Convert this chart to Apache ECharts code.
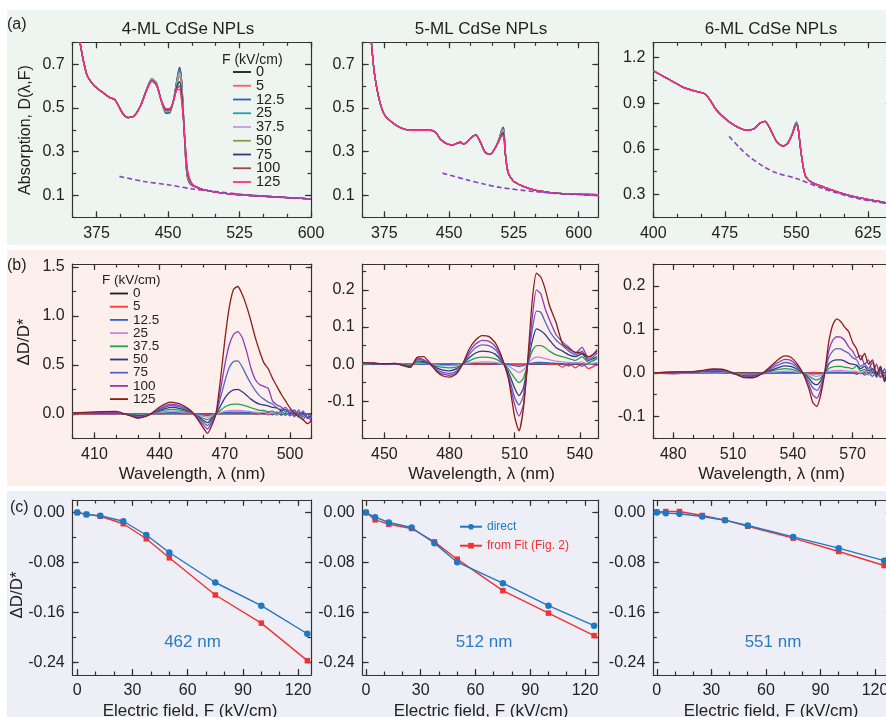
<!DOCTYPE html>
<html><head><meta charset="utf-8">
<script src="https://cdn.jsdelivr.net/npm/echarts@6/dist/echarts.min.js"></script>
<style>
html,body{margin:0;padding:0;background:#fff;}
#wrap{position:relative;width:886px;height:717px;overflow:hidden;}
.bg{position:absolute;left:7px;width:879px;}
#c{position:absolute;left:0;top:0;width:886px;height:717px;}
</style></head>
<body><div id="wrap">
<div class="bg" style="top:10px;height:235px;background:#eef4f0"></div>
<div class="bg" style="top:250px;height:236px;background:#fdf0ec"></div>
<div class="bg" style="top:491px;height:226px;background:#eeeff6"></div>
<div id="c"></div></div>
<script>
// ---------------- DATA ----------------
const fields = ['0','5','12.5','25','37.5','50','75','100','125'];

// tick labels
const aXLabels = [375,450,525,600];
const a3XLabels = [400,475,550,625];
const aYLabels = [0.1,0.3,0.5,0.7];
const a3YLabels = [0.3,0.6,0.9,1.2];
const b1XLabels = [410,440,470,500];
const b2XLabels = [450,480,510,540];
const b3XLabels = [480,510,540,570];
const b1YLabels = [0,0.5,1.0,1.5];
const bYLabels = [-0.1,0,0.1,0.2];
const cXLabels = [0,30,60,90,120];
const cYLabels = [-0.24,-0.16,-0.08,0];

// (a) 4-ML absorption: F=125 curve, plus other fields near the peaks
const a1Wl = [357.7,361,365,370,375,382,389,394,398,403,408,414,421,428,433,438,443,448,452,456,459,462,464,466,468,470,472,475,479,487,500,525,555,600];
const a1Base = [0.80,0.72,0.65,0.615,0.592,0.569,0.547,0.539,0.51,0.472,0.456,0.462,0.508,0.585,0.622,0.602,0.535,0.497,0.498,0.535,0.58,0.585,0.54,0.45,0.34,0.23,0.185,0.155,0.14,0.126,0.115,0.103,0.095,0.084];
const a1PeakWl = [428,433,438,443,448,452,456,459,462,464,466,468,470,472,475];
const a1PeakRows = [
 [0.59,0.633,0.612,0.53,0.475,0.478,0.54,0.62,0.685,0.64,0.49,0.3,0.19,0.16,0.145],
 [0.59,0.633,0.611,0.53,0.477,0.48,0.54,0.618,0.68,0.635,0.49,0.305,0.193,0.162,0.146],
 [0.59,0.632,0.61,0.531,0.479,0.482,0.54,0.616,0.676,0.63,0.485,0.31,0.196,0.164,0.147],
 [0.589,0.631,0.609,0.531,0.481,0.484,0.539,0.612,0.67,0.622,0.48,0.315,0.2,0.167,0.148],
 [0.588,0.629,0.608,0.532,0.484,0.487,0.538,0.606,0.66,0.612,0.475,0.32,0.205,0.17,0.15],
 [0.587,0.627,0.606,0.533,0.487,0.49,0.537,0.6,0.645,0.6,0.47,0.325,0.21,0.174,0.151],
 [0.586,0.625,0.604,0.534,0.491,0.493,0.536,0.592,0.62,0.575,0.46,0.33,0.218,0.178,0.153],
 [0.585,0.623,0.603,0.535,0.494,0.496,0.535,0.586,0.6,0.555,0.455,0.335,0.225,0.182,0.154]
];
const a1DashWl = [399,424.5,451,475.5,500,525,555,600];
const a1DashVal = [0.187,0.164,0.148,0.13,0.118,0.106,0.095,0.084];

// (a) 5-ML
const a2Wl = [360,363.5,369,375,384.6,394,406,417,429,435,440,448,454,460,463,467,475,481,486,492,498,504,508,511,513,515,517,519,522,525,536,548,567,587,623];
const a2Base = [0.80,0.66,0.54,0.47,0.432,0.409,0.398,0.398,0.398,0.386,0.357,0.335,0.331,0.34,0.343,0.335,0.363,0.377,0.345,0.296,0.29,0.322,0.35,0.372,0.37,0.29,0.235,0.197,0.178,0.164,0.141,0.125,0.113,0.107,0.103];
const a2PeakWl = [508,511,513,515,517];
const a2PeakRows = [
 [0.36,0.40,0.412,0.3,0.225],
 [0.36,0.399,0.41,0.299,0.226],
 [0.359,0.397,0.408,0.298,0.227],
 [0.358,0.394,0.404,0.297,0.228],
 [0.357,0.39,0.4,0.296,0.229],
 [0.355,0.386,0.394,0.295,0.23],
 [0.353,0.38,0.385,0.293,0.232],
 [0.351,0.376,0.378,0.291,0.234]
];
const a2DashWl = [442.3,471,490.4,509.6,548,586.5,623];
const a2DashVal = [0.202,0.171,0.152,0.136,0.118,0.106,0.1];

// (a) 6-ML
const a3Wl = [400,414,431,445,454,459,466,477,487,498,505,512,517,522,529,536,541,546,548,550,552,554,557,560,567,578,595,613,645];
const a3Base = [1.113,1.065,1.006,0.977,0.962,0.925,0.857,0.79,0.748,0.722,0.73,0.77,0.781,0.737,0.65,0.617,0.638,0.70,0.735,0.757,0.72,0.62,0.486,0.415,0.376,0.35,0.312,0.282,0.244];
const a3PeakWl = [546,548,550,552,554];
const a3PeakRows = [
 [0.705,0.75,0.775,0.735,0.62],
 [0.705,0.749,0.774,0.734,0.62],
 [0.704,0.748,0.772,0.733,0.62],
 [0.704,0.746,0.77,0.731,0.62],
 [0.703,0.744,0.768,0.729,0.62],
 [0.702,0.742,0.765,0.727,0.62],
 [0.701,0.739,0.762,0.724,0.62],
 [0.70,0.737,0.76,0.722,0.62]
];
const a3DashWl = [479.5,490.6,501,515,529,550,578,613,645];
const a3DashVal = [0.682,0.606,0.547,0.486,0.442,0.405,0.338,0.275,0.241];

// (b) 4-ML ΔD/D*
const b1Wl = [400,410,420,425,430,435,440,445,450,455,460,462,464,466,468,470,472,474,476,478,480,482,484,486,488,490,492,494,496,498,500,502,504,506,508,510];
const b1Rows = [
 [0,0,0,0,0,0,0,0,0,0,0,0,0,0,0,0,0,0,0,0,0,0,0,0,0,0,0,0,0,0,0,0,0,0,0,0],
 [0,0,0,0,-0.002,0,0.003,0.004,0.003,0,-0.004,-0.005,-0.003,0,0.003,0.006,0.008,0.009,0.009,0.008,0.007,0.006,0.004,0.002,0.01,-0.01,0.005,-0.012,0.008,-0.015,0.01,-0.02,0.005,-0.015,0,-0.02],
 [0.002,0.003,0.003,0,-0.005,-0.002,0.007,0.013,0.01,0.002,-0.013,-0.018,-0.01,0,0.007,0.013,0.016,0.018,0.018,0.016,0.014,0.01,0.008,0.012,0,0.015,-0.01,0.02,-0.015,0.01,-0.02,0.015,-0.03,0,-0.035,-0.02],
 [0.003,0.004,0.004,0,-0.01,-0.003,0.015,0.028,0.022,0.003,-0.027,-0.035,-0.02,0,0.012,0.026,0.033,0.036,0.036,0.032,0.027,0.022,0.016,0.012,0.02,0,0.012,-0.01,0.015,-0.012,0.01,-0.02,0.01,-0.025,0,-0.03],
 [0.004,0.006,0.006,-0.002,-0.015,-0.005,0.025,0.045,0.035,0.005,-0.045,-0.06,-0.035,0,0.035,0.07,0.092,0.1,0.1,0.092,0.078,0.062,0.048,0.035,0.035,0.02,0.028,0.005,0.025,-0.01,0.02,-0.015,0.015,-0.03,0.005,-0.025],
 [0.005,0.008,0.008,-0.004,-0.022,-0.008,0.035,0.065,0.05,0.008,-0.065,-0.09,-0.05,0,0.08,0.16,0.215,0.245,0.25,0.225,0.19,0.15,0.12,0.1,0.09,0.08,0.065,0.06,0.03,0.045,0,0.035,-0.01,0.02,-0.04,-0.02],
 [0.006,0.01,0.01,-0.005,-0.03,-0.01,0.045,0.085,0.065,0.01,-0.085,-0.12,-0.07,0,0.16,0.33,0.47,0.535,0.54,0.48,0.39,0.31,0.24,0.186,0.15,0.12,0.1,0.06,0.045,0.065,0.01,0.04,-0.02,0.03,-0.05,-0.03],
 [0.007,0.013,0.013,-0.007,-0.037,-0.012,0.055,0.1,0.08,0.012,-0.11,-0.155,-0.09,0,0.24,0.5,0.7,0.81,0.84,0.78,0.64,0.47,0.35,0.3,0.28,0.26,0.13,0.09,0.07,0.02,0.04,-0.03,0.04,-0.06,0,-0.1],
 [0.01,0.02,0.025,-0.008,-0.045,-0.015,0.07,0.12,0.095,0.02,-0.14,-0.2,-0.12,0.01,0.35,0.75,1.08,1.27,1.3,1.22,1.1,0.95,0.78,0.64,0.52,0.46,0.36,0.28,0.2,0.13,0.06,0.01,-0.03,-0.06,-0.1,-0.07]
];

// (b) 5-ML
const b2Wl = [440,445,450,455,459,462,465,468,471,474,477,480,483,486,489,492,495,498,501,504,507,510,512,514,516,518,520,522,524,526,529,532,535,538,541,544,548];
const b2Rows = [
 [0,0,0,0,0,0,0,0,0,0,0,0,0,0,0,0,0,0,0,0,0,0,0,0,0,0,0,0,0,0,0,0,0,0,0,0,0],
 [0,0.001,0,0,0,0,0,0,0,0,0,0,0,0,0,0.001,0.001,0.001,0,0,0,-0.001,-0.002,-0.001,0,0.001,0.002,0.002,0.001,0,0.001,-0.008,0.003,-0.01,0.002,-0.012,0],
 [0,0,0,0,0,0,0.001,0,0,-0.001,-0.001,-0.001,-0.001,0,0.001,0.002,0.002,0.002,0.001,0,-0.001,-0.004,-0.006,-0.004,0,0.003,0.005,0.005,0.004,0.003,0.002,0.001,-0.005,0.004,-0.006,0.003,-0.004],
 [0,0.001,0,0,0,-0.001,0.002,0.002,0,-0.002,-0.004,-0.004,-0.003,0,0.003,0.005,0.006,0.006,0.005,0.001,-0.005,-0.016,-0.022,-0.016,0,0.013,0.019,0.018,0.015,0.012,0.008,0.006,0.005,0.003,0.006,0,0.005],
 [0.001,0.001,0,0,-0.001,-0.003,0.005,0.004,0,-0.006,-0.009,-0.01,-0.008,0,0.009,0.016,0.019,0.018,0.014,0.004,-0.012,-0.038,-0.05,-0.038,0,0.035,0.05,0.05,0.045,0.035,0.025,0.02,0.015,0.01,0.02,0.005,0.015],
 [0.002,0.001,0,0.001,-0.002,-0.004,0.009,0.007,0,-0.01,-0.016,-0.018,-0.013,0,0.017,0.03,0.035,0.034,0.027,0.008,-0.02,-0.065,-0.085,-0.065,0,0.06,0.095,0.09,0.08,0.065,0.045,0.035,0.025,0.02,0.028,0.01,0.02],
 [0.002,0.002,0,0.001,-0.003,-0.006,0.013,0.01,0,-0.014,-0.022,-0.025,-0.019,0,0.025,0.044,0.052,0.05,0.039,0.012,-0.028,-0.09,-0.11,-0.085,0,0.09,0.143,0.14,0.115,0.09,0.065,0.05,0.035,0.025,0.035,0.01,0.03],
 [0.003,0.002,0,0.002,-0.004,-0.008,0.017,0.012,0,-0.017,-0.027,-0.03,-0.023,0,0.032,0.054,0.064,0.062,0.048,0.016,-0.035,-0.11,-0.14,-0.11,0.005,0.12,0.2,0.19,0.15,0.12,0.08,0.06,0.045,0.03,0.045,0.015,0.04],
 [0.004,0.003,0.001,0.002,-0.005,-0.009,0.018,0.02,0.003,-0.02,-0.032,-0.035,-0.027,0,0.04,0.065,0.077,0.075,0.058,0.02,-0.035,-0.143,-0.18,-0.12,0.01,0.167,0.245,0.235,0.203,0.158,0.113,0.055,0.041,0.032,0.03,0.02,0.035]
];

// (b) 6-ML
const b3Wl = [470,480,490,495,500,505,510,515,520,525,530,533,536,539,542,545,548,550,552,554,556,558,560,562,564,566,568,570,572,574,576,578,580,582,584,586,588,590];
const b3Rows = [
 [0,0,0,0,0,0,0,0,0,0,0,0,0,0,0,0,0,0,0,0,0,0,0,0,0,0,0,0,0,0,0,0,0,0,0,0,0,0],
 [0,0.001,0.001,0.001,0.002,0.001,0,-0.003,-0.003,0,0,0,0,0,0,0,0,0.001,0.001,0,0,0,0,0,0,0,0,0,0.002,-0.002,0.003,-0.004,0.002,-0.005,0.003,-0.006,0,-0.004],
 [0,-0.002,0,0.001,0.002,0.001,-0.002,-0.005,-0.005,-0.002,0,0.001,0.001,0.001,0,0,-0.001,-0.002,-0.002,-0.001,0,0.001,0.002,0.002,0.002,0.001,0.001,0,-0.003,0.002,-0.005,0,-0.008,0.003,-0.01,-0.005,-0.015,-0.02],
 [0,0,0.001,0.002,0.003,0.002,0,-0.005,-0.006,0,0.002,0.003,0.004,0.004,0.002,0,-0.003,-0.006,-0.008,-0.005,0,0.004,0.005,0.006,0.006,0.005,0.004,0.004,0.003,0,0.004,-0.005,0.003,-0.008,0.002,-0.01,0,-0.008],
 [0,0.001,0.001,0.003,0.004,0.003,0,-0.006,-0.007,0,0.005,0.008,0.01,0.009,0.005,0,-0.007,-0.013,-0.016,-0.011,0,0.01,0.014,0.015,0.015,0.013,0.012,0.01,0.016,0.005,0.008,0,0.008,-0.01,0.005,-0.012,0.002,-0.01],
 [0,0.001,0.002,0.004,0.005,0.004,0,-0.007,-0.008,0,0.008,0.013,0.016,0.015,0.009,0,-0.012,-0.023,-0.027,-0.018,0,0.02,0.028,0.03,0.03,0.027,0.022,0.02,0.018,0.01,0.015,0.005,0.01,-0.008,0.01,-0.015,0.005,-0.01],
 [0,0.001,0.002,0.004,0.006,0.005,0,-0.008,-0.009,0,0.012,0.019,0.024,0.022,0.013,0,-0.018,-0.034,-0.04,-0.027,0,0.035,0.05,0.056,0.055,0.05,0.045,0.035,0.03,0.015,0.02,0.01,0.025,-0.01,0.015,-0.02,0,-0.015],
 [0,0.002,0.003,0.005,0.008,0.007,0,-0.009,-0.01,0,0.016,0.025,0.031,0.029,0.017,0,-0.026,-0.05,-0.058,-0.038,0,0.05,0.075,0.083,0.082,0.075,0.06,0.05,0.035,0.04,0.02,0.03,0,0.02,-0.01,0.01,-0.02,0],
 [0,0.002,0.003,0.006,0.009,0.008,0,-0.01,-0.011,0,0.02,0.032,0.039,0.036,0.022,0,-0.035,-0.068,-0.077,-0.05,0,0.07,0.11,0.124,0.118,0.105,0.095,0.07,0.055,0.03,0.045,0.02,0.03,-0.005,0.015,-0.02,0.005,-0.03]
];

// (c) ΔD/D* vs field
const cField = [0,5,12.5,25,37.5,50,75,100,125];
const c1Direct = [0,-0.003,-0.005,-0.014,-0.036,-0.064,-0.112,-0.149,-0.194];
const c1Fit = [0,-0.003,-0.006,-0.018,-0.042,-0.0725,-0.132,-0.177,-0.237];
const c2Direct = [0,-0.0075,-0.016,-0.024,-0.049,-0.0795,-0.113,-0.149,-0.181];
const c2Fit = [0,-0.0117,-0.0187,-0.0256,-0.047,-0.0747,-0.125,-0.161,-0.197];
const c3Direct = [0,-0.001,-0.002,-0.0064,-0.0123,-0.0208,-0.039,-0.057,-0.077];
const c3Fit = [0.001,0.0016,0.0016,-0.0048,-0.0123,-0.022,-0.041,-0.0624,-0.0848];

// ---------------- STYLE / LAYOUT ----------------
const FONT = '"Liberation Sans", Arial, Helvetica, sans-serif';
const colorsA = ['#1a1a1a','#ff5c5c','#2a62c8','#1ea5a0','#c99ad8','#8a9a40','#2e3a7c','#9a4848','#ff2c8c'];
const colorsB = ['#1a1a1a','#ff3b3b','#2a64d0','#c08ad6','#22a04a','#2a3a86','#5566c8','#8d3bb8','#8b1c1c'];
const BLUE = '#1f78c1', RED = '#f03232', AX = '#333';

function rng(a,b,s){const n=Math.round((b-a)/s);const o=[];for(let i=0;i<=n;i++)o.push(+(a+i*s).toFixed(6));return o;}

const layout = [
 {left:72.7, top:42.3, width:238.3, height:175},
 {left:362.7, top:42.3, width:235.6, height:175},
 {left:653.3, top:42.3, width:238.5, height:175},
 {left:72.7, top:264, width:239, height:174.3},
 {left:362.7, top:264, width:235.6, height:174.3},
 {left:653.3, top:264, width:239.2, height:174.3},
 {left:72.7, top:500, width:238.3, height:175},
 {left:362.7, top:500, width:235.6, height:175},
 {left:653.3, top:500, width:238.5, height:175}
];
const cY = {min:-0.26,max:0.02,ticks:rng(-0.24,0,0.04),labels:cYLabels,dec:2};
const specs = [
 {x:{min:350,max:600,ticks:rng(350,600,25),labels:aXLabels,dec:0}, y:{min:0,max:0.8,ticks:rng(0,0.8,0.1),labels:aYLabels,dec:1}},
 {x:{min:350,max:622.7,ticks:rng(350,600,25),labels:aXLabels,dec:0}, y:{min:0,max:0.8,ticks:rng(0,0.8,0.1),labels:aYLabels,dec:1}},
 {x:{min:400,max:650,ticks:rng(400,650,25),labels:a3XLabels,dec:0}, y:{min:0.15,max:1.3,ticks:rng(0.15,1.2,0.15),labels:a3YLabels,dec:1}},
 {x:{min:400,max:510,ticks:rng(400,510,10),labels:b1XLabels,dec:0}, y:{min:-0.25,max:1.53,ticks:rng(-0.25,1.5,0.25),labels:b1YLabels,dec:1}},
 {x:{min:440,max:548.5,ticks:rng(440,540,10),labels:b2XLabels,dec:0}, y:{min:-0.2,max:0.27,ticks:rng(-0.2,0.25,0.05),labels:bYLabels,dec:1}},
 {x:{min:470,max:590,ticks:rng(470,590,10),labels:b3XLabels,dec:0}, y:{min:-0.15,max:0.25,ticks:rng(-0.15,0.25,0.05),labels:bYLabels,dec:1}},
 {x:{min:-2.5,max:127,ticks:rng(0,120,10),labels:cXLabels,dec:0}, y:cY},
 {x:{min:-1.8,max:127.3,ticks:rng(0,120,10),labels:cXLabels,dec:0}, y:cY},
 {x:{min:-1.9,max:129.2,ticks:rng(0,120,10),labels:cXLabels,dec:0}, y:cY}
];

function buildAxes(gi, dim, sp){
  const isX = dim === 'x';
  const p0 = isX ? 'bottom' : 'left', p1 = isX ? 'top' : 'right';
  const ls = {color:AX, width:1.2};
  const common = {gridIndex:gi, type:'value', min:sp.min, max:sp.max, splitLine:{show:false}, splitArea:{show:false}, silent:true};
  const major = (pos, lab) => Object.assign({}, common, {position:pos,
    axisLine:{show:true,onZero:false,lineStyle:ls},
    axisTick:{show:true,inside:true,length:6,customValues:sp.labels,lineStyle:ls},
    axisLabel: lab ? {show:true,customValues:sp.labels,formatter:v=>Number(v).toFixed(sp.dec),fontSize:16,fontFamily:FONT,color:'#222',margin:8} : {show:false}});
  const minor = (pos) => Object.assign({}, common, {position:pos,
    axisLine:{show:false,onZero:false},
    axisTick:{show:true,inside:true,length:3.5,customValues:sp.ticks,lineStyle:ls},
    axisLabel:{show:false}});
  return [major(p0,true), minor(p0), major(p1,false), minor(p1)];
}

const grid = layout.map(g => Object.assign({}, g, {containLabel:false, outerBoundsMode:'none', show:false}));
const xAxis = [], yAxis = [];
specs.forEach((s,gi) => { xAxis.push(...buildAxes(gi,'x',s.x)); yAxis.push(...buildAxes(gi,'y',s.y)); });

const series = [];
const aPanels = [
 {wl:a1Wl, base:a1Base, pk:a1PeakWl, rows:a1PeakRows, dw:a1DashWl, dv:a1DashVal},
 {wl:a2Wl, base:a2Base, pk:a2PeakWl, rows:a2PeakRows, dw:a2DashWl, dv:a2DashVal},
 {wl:a3Wl, base:a3Base, pk:a3PeakWl, rows:a3PeakRows, dw:a3DashWl, dv:a3DashVal}
];
aPanels.forEach((p,k) => {
  fields.forEach((f,fi) => {
    const data = p.wl.map((w,i) => { const j = p.pk.indexOf(w); return [w, (fi < p.rows.length && j >= 0) ? p.rows[fi][j] : p.base[i]]; });
    series.push({type:'line', name:'a:'+f, xAxisIndex:k*4, yAxisIndex:k*4, data, symbol:'none', smooth:0.25,
      lineStyle:{color:colorsA[fi], width:1.3}, itemStyle:{color:colorsA[fi]}, silent:true});
  });
  series.push({type:'line', name:'dash', xAxisIndex:k*4, yAxisIndex:k*4, data:p.dw.map((w,i)=>[w,p.dv[i]]), symbol:'none', smooth:0.3,
    lineStyle:{color:'#8a44c4', width:1.6, type:[5,3]}, itemStyle:{color:'#8a44c4'}, silent:true});
});

const bPanels = [{wl:b1Wl, rows:b1Rows},{wl:b2Wl, rows:b2Rows},{wl:b3Wl, rows:b3Rows}];
bPanels.forEach((p,k) => {
  const gi = 3 + k;
  fields.forEach((f,fi) => {
    series.push({type:'line', name:'b:'+f, xAxisIndex:gi*4, yAxisIndex:gi*4, data:p.wl.map((w,i)=>[w,p.rows[fi][i]]), symbol:'none', smooth:0.2,
      lineStyle:{color:colorsB[fi], width:1.3}, itemStyle:{color:colorsB[fi]}, silent:true});
  });
});

const cPanels = [{d:c1Direct,f:c1Fit},{d:c2Direct,f:c2Fit},{d:c3Direct,f:c3Fit}];
cPanels.forEach((p,k) => {
  const gi = 6 + k;
  series.push({type:'line', name:'from Fit (Fig. 2)', xAxisIndex:gi*4, yAxisIndex:gi*4, data:cField.map((x,i)=>[x,p.f[i]]),
    symbol:'rect', symbolSize:5.5, lineStyle:{color:RED, width:1.4}, itemStyle:{color:RED}, silent:true});
  series.push({type:'line', name:'direct', xAxisIndex:gi*4, yAxisIndex:gi*4, data:cField.map((x,i)=>[x,p.d[i]]),
    symbol:'circle', symbolSize:6.5, lineStyle:{color:BLUE, width:1.4}, itemStyle:{color:BLUE}, silent:true});
});

function T(text, x, y, o){ o = o || {};
  const al = o.align || 'center';
  return {type:'text', x, y, rotation:o.rot || 0, silent:true, z:100,
    style:{text, fill:o.color || '#222', font:(o.size || 16)+'px '+FONT, align:al, verticalAlign:'middle', textAlign:al, textVerticalAlign:'middle'}};
}
const R = Math.PI/2;
const graphic = [
  T('(a)', 7, 25, {align:'left', size:16}),
  T('(b)', 7, 266, {align:'left', size:16}),
  T('(c)', 10, 508, {align:'left', size:16}),
  T('4-ML CdSe NPLs', 188, 29.5, {size:17}),
  T('5-ML CdSe NPLs', 481, 29.5, {size:17}),
  T('6-ML CdSe NPLs', 771, 29.5, {size:17}),
  T('Absorption, D(λ,F)', 26, 130, {rot:R, size:16}),
  T('ΔD/D*', 24.5, 342, {rot:R, size:17}),
  T('ΔD/D*', 17.5, 595, {rot:R, size:17}),
  T('F (kV/cm)', 222, 60, {align:'left', size:14}),
  T('F (kV/cm)', 102, 280, {align:'left', size:13.5}),
  T('Wavelength, λ (nm)', 192, 474, {size:17}),
  T('Wavelength, λ (nm)', 481.5, 474, {size:17}),
  T('Wavelength, λ (nm)', 771.5, 474, {size:17}),
  T('Electric field, F (kV/cm)', 190, 711, {size:17}),
  T('Electric field, F (kV/cm)', 481, 711, {size:17}),
  T('Electric field, F (kV/cm)', 771, 711, {size:17}),
  T('462 nm', 192.5, 642, {size:17, color:'#2a7cc2'}),
  T('512 nm', 484, 642, {size:17, color:'#2a7cc2'}),
  T('551 nm', 773, 642, {size:17, color:'#2a7cc2'})
];

const legend = [
  {data:fields.map(f=>'a:'+f), formatter:n=>n.slice(2), orient:'vertical', left:233, top:64.5, padding:0,
   icon:'rect', itemWidth:18, itemHeight:1.8, itemGap:-1.25, selectedMode:false,
   textStyle:{fontFamily:FONT, fontSize:14.5, color:'#222', lineHeight:13}},
  {data:fields.map(f=>'b:'+f), formatter:n=>n.slice(2), orient:'vertical', left:110, top:286.5, padding:0,
   icon:'rect', itemWidth:18, itemHeight:1.8, itemGap:-0.8, selectedMode:false,
   textStyle:{fontFamily:FONT, fontSize:13.5, color:'#222', lineHeight:13}},
  {data:[{name:'direct', textStyle:{color:BLUE}}, {name:'from Fit (Fig. 2)', textStyle:{color:RED}}],
   orient:'vertical', left:459, top:520.7, padding:0, itemWidth:22, itemHeight:7, itemGap:7, selectedMode:false,
   textStyle:{fontFamily:FONT, fontSize:12, lineHeight:12}}
];

const chart = echarts.init(document.getElementById('c'), null, {renderer:'canvas', width:886, height:717});
chart.setOption({
  animation:false,
  backgroundColor:'transparent',
  textStyle:{fontFamily:FONT},
  grid, xAxis, yAxis, series, legend, graphic,
  tooltip:{show:false}
});
</script></body></html>
